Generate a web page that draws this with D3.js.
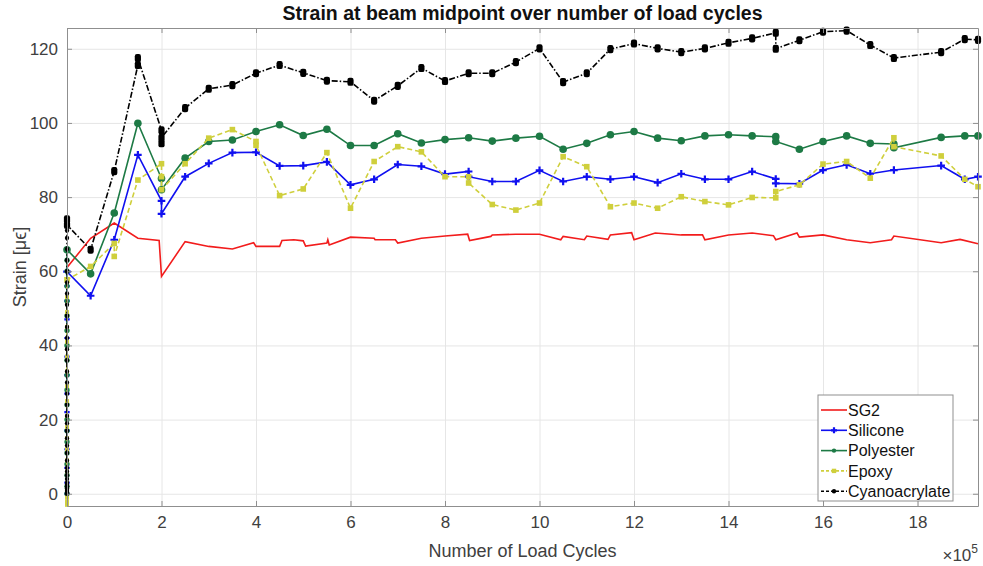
<!DOCTYPE html>
<html>
<head>
<meta charset="utf-8">
<title>Strain at beam midpoint over number of load cycles</title>
<script src="https://cdn.jsdelivr.net/npm/d3@7"></script>
<style>
    body {margin: 0; background: #fff;}
    text {font-family: "Liberation Sans", Arial, Helvetica, sans-serif;}
</style>
</head>
<body>
<script>
    // load cycles where the strain was read (the last one is the end of the test)
    var cycles = [0, 50000, 100000, 150000, 200000, 250000, 300000, 350000, 400000, 450000,
        500000, 550000, 600000, 650000, 700000, 750000, 800000, 850000, 900000, 950000,
        1000000, 1050000, 1100000, 1150000, 1200000, 1250000, 1300000, 1350000, 1400000, 1450000,
        1500000, 1550000, 1600000, 1650000, 1700000, 1750000, 1850000, 1900000, 1928000];

    // strain [με]; a nested list = several readings at the same cycle count
    var silicone = [59.9, 53.4, 68.5, 91.4, [79, 75.5], 85.5, 89.1, 92, 92.1, 88.4,
        88.5, 89.5, 83.3, 84.8, 88.8, 88.3, 86.2, [86.9, 85.5], 84.2, 84.2,
        87.2, 84.2, 85.5, 84.8, 85.5, 83.9, 86.3, 84.8, 84.8, 86.9,
        [84.9, 83.7], 83.6, 87.3, 88.7, 86.3, 87.3, 88.5, 84.8, 85.5];
    var polyester = [65.8, 59.3, 75.7, 99.9, [85, 82], 90.5, 95, 95.4, 97.7, 99.5,
        96.6, 98.3, 93.9, 93.9, 97.1, 94.6, 95.5, 96, 95.1, 95.9,
        96.4, 92.9, 94.5, 96.8, 97.7, 95.9, 95.2, 96.5, 96.8, 96.5,
        [96.3, 95], 92.9, 95, 96.5, 94.5, [94.3, 93.3], 96.1, 96.5, 96.5];
    var epoxy = [57.7, 61.3, [67.5, 64], 84.6, [89, 85.5, 82], 89, 95.9, 98.2, [95, 94], 80.4,
        82.2, 92, 77, 89.6, 93.6, 92.2, 85.5, [85.5, 83.8], 78, 76.5,
        78.4, 90.9, 88.2, 77.4, 78.4, 77, 80.1, 78.8, 77.9, 79.9,
        [79.8, 81.5], 83.3, 88.9, 89.6, 85.1, [96, 93.6], 91.1, 84.8, 82.8];
    var cyano = [[74, 72.5], 65.8, 87, [115.6, 117.5], [98, 94.5, 96], 104, 109.2, 110.2, 113.4, 115.6,
        113.5, 111.4, 111.1, 106, 110, 114.8, 111.3, 113.4, 113.4, 116.4,
        120.1, 111, 113.4, 119.9, 121.4, 120.1, 119.1, 120.1, 121.6, 122.8,
        [124.3, 120], 122.3, 124.6, 124.9, 121, 117.5, 119.1, 122.6, 122.4];

    // first loading ramp, all at cycle 0
    var siliconeRamp = [0, 3, 7, 12, 17, 22, 27, 32, 37, 42, 47, 52, 56];
    var polyesterRamp = [0, 2, 5, 8, 11, 14, 17, 20, 24, 28, 32, 36, 40, 44, 48, 52, 56, 60, 63];
    var epoxyRamp = [-3, -2.5, -2, -1, 1, 3, 6, 9, 12, 15, 18, 21, 25, 29, 33, 37, 41, 45, 49, 53];
    var cyanoRamp = [0, 0.5, 1, 1.5, 2, 2.5, 3, 4, 5, 6, 7, 9, 11, 13, 15, 17, 19, 21, 24, 27,
        30, 33, 36, 39, 42, 45, 48, 51, 54, 57, 60, 63, 66, 69, 71];

    // reference strain gauge SG2 (no markers)
    var sg2Cycles = [0, 50000, 100000, 150000, 195000, 200000, 250000, 300000, 350000, 395000,
        400000, 450000, 455000, 480000, 500000, 505000, 550000, 552000, 555000, 600000,
        650000, 652000, 695000, 700000, 750000, 800000, 848000, 852000, 897000, 900000,
        950000, 1000000, 1045000, 1050000, 1095000, 1100000, 1145000, 1150000, 1195000, 1200000,
        1245000, 1300000, 1345000, 1350000, 1400000, 1450000, 1495000, 1500000, 1545000, 1550000,
        1600000, 1650000, 1700000, 1745000, 1750000, 1850000, 1890000, 1928000];
    var sg2 = [61, 68.9, 73, 68.9, 68.3, 58.6, 68, 66.7, 66, 67.7,
        66.7, 66.7, 68.3, 68.5, 68.2, 66.8, 67.6, 68.5, 67.1, 69.2,
        68.9, 68.5, 68.5, 67.6, 68.9, 69.5, 70, 68.3, 69.4, 69.8,
        70, 70, 68.5, 69.4, 68.5, 69.5, 68.6, 69.8, 70.4, 68.5,
        70.3, 69.8, 69.8, 68.5, 69.8, 70.3, 69.6, 68.5, 70.3, 69.2,
        69.8, 68.5, 67.7, 68.5, 69.5, 67.7, 68.6, 67.4];

    var xTicks = [0, 200000, 400000, 600000, 800000, 1000000, 1200000, 1400000, 1600000, 1800000];
    var xTickLabels = ['0', '2', '4', '6', '8', '10', '12', '14', '16', '18'];
    var yTicks = [0, 20, 40, 60, 80, 100, 120];
    var legendNames = ['SG2', 'Silicone', 'Polyester', 'Epoxy', 'Cyanoacrylate'];

    var width = 983, height = 566;
    var padding = {top: 28, right: 5, bottom: 60, left: 67};
    var svg = d3.select('body').append('svg').attr('width', width).attr('height', height);

    var x = d3.scaleLinear().domain([0, 1928000]).range([padding.left, width - padding.right]);
    var y = d3.scaleLinear().domain([-3.3, 125.6]).range([height - padding.bottom, padding.top]);

    var axisColor = '#8f8f8f', labelColor = '#404040';

    // grid
    svg.append('g').attr('transform', 'translate(0,' + (height - padding.bottom) + ')')
        .call(d3.axisBottom(x).tickValues(xTicks).tickSize(-(height - padding.top - padding.bottom)).tickFormat(''))
        .call(function (g) {
            g.select('.domain').remove();
            g.selectAll('line').attr('stroke', '#e6e6e6');
        });
    svg.append('g').attr('transform', 'translate(' + padding.left + ',0)')
        .call(d3.axisLeft(y).tickValues(yTicks).tickSize(-(width - padding.left - padding.right)).tickFormat(''))
        .call(function (g) {
            g.select('.domain').remove();
            g.selectAll('line').attr('stroke', '#e6e6e6');
        });

    // ramp points get a flag so they can be drawn a bit smaller
    function mergePoints(ramp, values) {
        var pts = ramp.map(function (v) { return [0, v, true]; });
        values.forEach(function (v, i) {
            [].concat(v).forEach(function (w) { pts.push([cycles[i], w, false]); });
        });
        return pts;
    }

    var line = d3.line().x(function (d) { return x(d[0]); }).y(function (d) { return y(d[1]); });

    var series = [
        {name: 'SG2', color: '#f21c1c', dash: null, marker: null,
            points: sg2Cycles.map(function (c, i) { return [c, sg2[i], false]; })},
        {name: 'Silicone', color: '#1010f0', dash: null, marker: 'plus', points: mergePoints(siliconeRamp, silicone)},
        {name: 'Polyester', color: '#1d7a45', dash: null, marker: 'circle', points: mergePoints(polyesterRamp, polyester)},
        {name: 'Epoxy', color: '#cfcf3c', dash: '5,3', marker: 'square', points: mergePoints(epoxyRamp, epoxy)},
        {name: 'Cyanoacrylate', color: '#000000', dash: '6,2,1.5,2', marker: 'dot', points: mergePoints(cyanoRamp, cyano)}
    ];

    function drawMarker(sel, s, size, round) {
        if (s.marker === 'plus') {
            sel.append('path').attr('d', 'M' + (-size) + ',0H' + size + 'M0,' + (-size) + 'V' + size)
                .attr('stroke', s.color).attr('stroke-width', 2.2).attr('fill', 'none');
        } else if (s.marker === 'circle') {
            sel.append('circle').attr('r', size).attr('fill', s.color);
        } else if (s.marker === 'square') {
            sel.append('rect').attr('x', -size).attr('y', -size).attr('width', size * 2).attr('height', size * 2)
                .attr('fill', s.color);
        } else if (s.marker === 'dot') {
            if (round) {
                sel.append('circle').attr('r', size).attr('fill', s.color);
            } else {
                sel.append('rect').attr('x', -size).attr('y', -size * 1.3).attr('width', size * 2)
                    .attr('height', size * 2.6).attr('rx', size * 0.7).attr('fill', s.color);
            }
        }
    }

    var msize = {plus: 3.8, circle: 3.8, square: 2.8, dot: 3.1};

    series.forEach(function (s) {
        var g = svg.append('g');
        g.append('path').datum(s.points)
            .attr('d', line)
            .attr('fill', 'none')
            .attr('stroke', s.color)
            .attr('stroke-width', 1.6)
            .attr('stroke-dasharray', s.dash);
        if (s.marker) {
            g.selectAll('g.m').data(s.points).enter().append('g')
                .attr('class', 'm')
                .attr('transform', function (d) { return 'translate(' + x(d[0]) + ',' + y(d[1]) + ')'; })
                .each(function (d) {
                    drawMarker(d3.select(this), s, d[2] ? msize[s.marker] * 0.7 : msize[s.marker], d[2]);
                });
        }
    });

    // axes box with inward ticks on all four sides
    function styleAxis(g) {
        g.select('.domain').attr('stroke', axisColor);
        g.selectAll('.tick line').attr('stroke', axisColor);
        g.selectAll('.tick text').attr('fill', labelColor).attr('font-size', 17);
    }
    svg.append('g').attr('transform', 'translate(0,' + (height - padding.bottom) + ')')
        .call(d3.axisBottom(x).tickValues(xTicks).tickSizeInner(-5).tickSizeOuter(0).tickPadding(10)
            .tickFormat(function (d, i) { return xTickLabels[i]; }))
        .call(styleAxis);
    svg.append('g').attr('transform', 'translate(0,' + padding.top + ')')
        .call(d3.axisTop(x).tickValues(xTicks).tickSizeInner(-5).tickSizeOuter(0).tickFormat(''))
        .call(styleAxis);
    svg.append('g').attr('transform', 'translate(' + padding.left + ',0)')
        .call(d3.axisLeft(y).tickValues(yTicks).tickSizeInner(-5).tickSizeOuter(0).tickPadding(9))
        .call(styleAxis);
    svg.append('g').attr('transform', 'translate(' + (width - padding.right) + ',0)')
        .call(d3.axisRight(y).tickValues(yTicks).tickSizeInner(-5).tickSizeOuter(0).tickFormat(''))
        .call(styleAxis);

    // titles
    svg.append('text').attr('x', (padding.left + width - padding.right) / 2).attr('y', 20)
        .attr('text-anchor', 'middle').attr('font-size', 19.5).attr('font-weight', 'bold').attr('fill', '#111')
        .text('Strain at beam midpoint over number of load cycles');
    svg.append('text').attr('x', (padding.left + width - padding.right) / 2).attr('y', 557)
        .attr('text-anchor', 'middle').attr('font-size', 18).attr('fill', labelColor)
        .text('Number of Load Cycles');
    svg.append('text')
        .attr('transform', 'translate(26,' + (padding.top + height - padding.bottom) / 2 + ') rotate(-90)')
        .attr('text-anchor', 'middle').attr('font-size', 18).attr('fill', labelColor)
        .text('Strain [μϵ]');
    var exp = svg.append('text').attr('x', width - padding.right).attr('y', 561)
        .attr('text-anchor', 'end').attr('font-size', 17).attr('fill', labelColor);
    exp.append('tspan').text('×10');
    exp.append('tspan').attr('dy', -8).attr('font-size', 12).text('5');

    // legend
    var lg = svg.append('g').attr('transform', 'translate(818,395)');
    lg.append('rect').attr('width', 135).attr('height', 106).attr('fill', '#fff').attr('stroke', axisColor);
    var items = lg.selectAll('g.item').data(series).enter().append('g')
        .attr('class', 'item')
        .attr('transform', function (d, i) { return 'translate(0,' + (15 + i * 20.3) + ')'; });
    items.append('line').attr('x1', 3).attr('x2', 29).attr('y1', 0).attr('y2', 0)
        .attr('stroke', function (d) { return d.color; }).attr('stroke-width', 1.6)
        .attr('stroke-dasharray', function (d) { return d.dash ? '3,2' : null; });
    items.each(function (d) {
        if (d.marker) {
            var m = d3.select(this).append('g').attr('transform', 'translate(16,0)');
            drawMarker(m, d, d.marker === 'plus' ? 3 : 2.2, true);
        }
    });
    items.append('text').attr('x', 30).attr('dy', '0.35em').attr('font-size', 16).attr('fill', '#111')
        .text(function (d, i) { return legendNames[i]; });
</script>
</body>
</html>
